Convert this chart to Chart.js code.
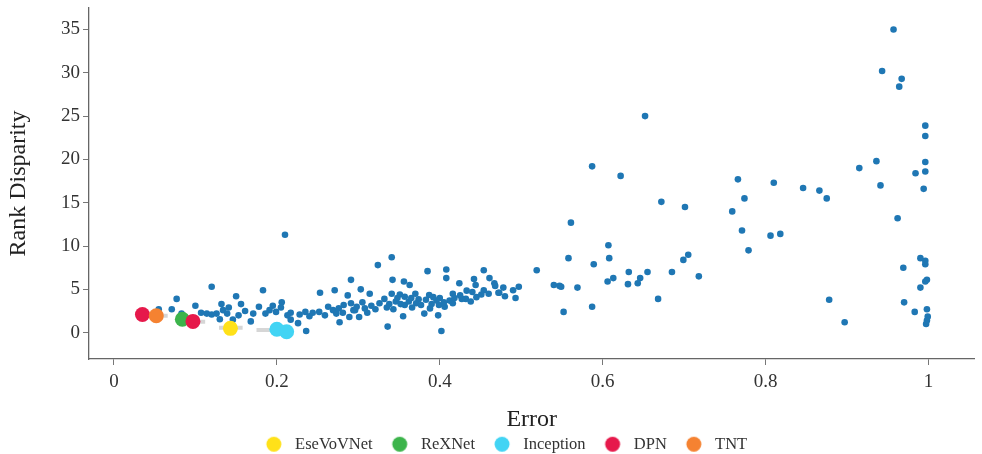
<!DOCTYPE html>
<html>
<head>
<meta charset="utf-8">
<script src="https://cdn.jsdelivr.net/npm/chart.js@4"></script>
<style>
  html, body { margin: 0; padding: 0; background: #fff; }
</style>
</head>
<body>
<canvas id="disparity" width="982" height="454"></canvas>
<script>
// axis ticks
const xTicks = [0, 0.2, 0.4, 0.6, 0.8, 1];
const xTickLabels = ["0", "0.2", "0.4", "0.6", "0.8", "1"];
const yTicks = [0, 5, 10, 15, 20, 25, 30, 35];

// every model: error vs rank disparity
const allError = [
    0.957, 0.943, 0.967, 0.964, 0.996, 0.996, 0.996, 0.936, 0.915, 0.984, 0.996, 0.941, 0.994,
    0.766, 0.810, 0.846, 0.866, 0.875, 0.774, 0.759, 0.962, 0.771, 0.806, 0.818, 0.779, 0.990,
    0.996, 0.996, 0.969, 0.998, 0.996, 0.990, 0.878, 0.970, 0.983, 0.998, 0.999, 0.998, 0.997, 0.897,
    0.652, 0.587, 0.622, 0.672, 0.701, 0.561, 0.607, 0.705, 0.699, 0.558, 0.608, 0.589, 0.519,
    0.632, 0.655, 0.685, 0.718, 0.613, 0.606, 0.646, 0.643, 0.631, 0.540, 0.547, 0.549, 0.569,
    0.497, 0.490, 0.478, 0.480, 0.493, 0.668, 0.552, 0.587, 0.473,
    0.341, 0.324, 0.385, 0.408, 0.408, 0.454, 0.461, 0.291, 0.342, 0.356, 0.363, 0.424, 0.442,
    0.467, 0.468, 0.444, 0.303, 0.314, 0.454, 0.460, 0.472, 0.433, 0.440, 0.341, 0.351, 0.370,
    0.387, 0.416, 0.432, 0.412, 0.400, 0.396, 0.374, 0.357, 0.332, 0.346, 0.326, 0.305, 0.291,
    0.296, 0.308, 0.321, 0.335, 0.357, 0.371, 0.377, 0.390, 0.399, 0.406, 0.416, 0.427, 0.301,
    0.355, 0.381, 0.398, 0.336, 0.402,
    0.362, 0.383, 0.392, 0.405, 0.418, 0.352, 0.338, 0.365, 0.348, 0.425, 0.445, 0.451, 0.438,
    0.388, 0.366, 0.343,
    0.183, 0.150, 0.253, 0.271, 0.287, 0.206, 0.156, 0.178, 0.141, 0.161, 0.195, 0.191, 0.199,
    0.186, 0.171, 0.153, 0.168, 0.217, 0.228, 0.235, 0.244, 0.252, 0.263, 0.269, 0.273, 0.281,
    0.282, 0.294, 0.289, 0.217, 0.226, 0.236, 0.210, 0.277,
    0.205, 0.213, 0.259, 0.276, 0.298, 0.311, 0.316, 0.240,
    0.120, 0.077, 0.055, 0.071, 0.083, 0.100, 0.107, 0.114, 0.120, 0.126, 0.132, 0.134, 0.139,
    0.146, 0.130
];
const allDisparity = [
    35.0, 30.2, 29.3, 28.4, 23.9, 22.7, 19.7, 19.8, 19.0, 18.4, 18.6, 17.0, 16.6,
    17.7, 17.3, 16.7, 16.4, 15.5, 15.5, 14.0, 13.2, 11.8, 11.2, 11.4, 9.5, 8.6,
    8.3, 7.9, 7.5, 6.1, 5.9, 5.2, 3.8, 3.5, 2.4, 2.7, 1.85, 1.4, 1.0, 1.2,
    25.0, 19.2, 18.1, 15.1, 14.5, 12.7, 10.1, 9.0, 8.4, 8.6, 8.6, 7.9, 7.2,
    7.0, 7.0, 7.0, 6.5, 6.3, 5.9, 6.3, 5.7, 5.6, 5.5, 5.4, 5.3, 5.2,
    5.3, 4.9, 5.2, 4.2, 4.0, 3.9, 2.4, 3.0, 4.6,
    8.7, 7.8, 7.1, 7.3, 6.3, 7.2, 6.3, 6.1, 6.1, 5.9, 5.5, 5.7, 6.2,
    5.7, 5.4, 5.5, 5.0, 4.5, 4.9, 4.5, 4.6, 4.85, 4.7, 4.5, 4.4, 4.5,
    4.35, 4.5, 3.9, 3.7, 4.0, 3.7, 3.85, 4.15, 3.9, 3.6, 3.4, 3.5, 3.4,
    2.6, 2.8, 2.7, 2.9, 3.2, 3.4, 3.2, 3.3, 3.2, 3.0, 3.4, 3.9, 1.8,
    1.9, 2.2, 2.0, 0.7, 0.2,
    3.6, 3.8, 4.1, 3.5, 4.0, 3.3, 3.3, 4.0, 4.0, 4.3, 4.1, 4.4, 3.6,
    2.8, 2.9, 2.7,
    4.9, 4.2, 4.6, 4.9, 4.3, 3.5, 3.3, 3.0, 2.9, 2.5, 3.1, 2.6, 2.4,
    2.2, 2.2, 2.0, 1.3, 2.3, 2.1, 2.4, 2.3, 2.4, 3.0, 2.6, 2.2, 2.3,
    3.2, 2.6, 1.8, 1.5, 1.1, 0.2, 11.3, 1.2,
    2.9, 2.0, 2.0, 2.8, 3.0, 2.3, 3.1, 1.9,
    5.3, 3.9, 2.7, 2.7, 2.2, 3.1, 2.3, 2.2, 2.1, 2.2, 3.3, 2.6, 2.2,
    1.5, 1.55
];

// highlighted model families
const modelNames = ["EseVoVNet", "ReXNet", "Inception", "DPN", "TNT"];
const modelColors = ["#ffe119", "#3cb44b", "#42d4f4", "#e6194b", "#f58231"];
const modelError = [[0.143], [0.084], [0.200, 0.212], [0.035, 0.097], [0.052]];
const modelDisparity = [[0.5], [1.55], [0.4, 0.1], [2.1, 1.3], [1.95]];
const modelOrder = [0, 0, 0, -1, -2];

// error spread of the families (grey bars)
const spreadFrom = [0.129, 0.175, 0.085, 0.032];
const spreadTo = [0.158, 0.216, 0.112, 0.066];
const spreadLevel = [0.58, 0.31, 1.27, 1.96];

const serif = "'Liberation Serif', 'Times New Roman', serif";

function toPoints(xs, ys) {
    return xs.map((x, i) => ({ x: x, y: ys[i] }));
}

// legend dot with some room in front of the text
function legendDot(color) {
    const c = document.createElement("canvas");
    c.width = 38;
    c.height = 17;
    const g = c.getContext("2d");
    g.fillStyle = color;
    g.beginPath();
    g.arc(25, 8.5, 7.5, 0, Math.PI * 2);
    g.fill();
    return c;
}
const dots = {};
modelNames.forEach((name, i) => { dots[name] = legendDot(modelColors[i]); });

const datasets = [];
modelNames.forEach((name, i) => {
    datasets.push({
        type: "scatter",
        label: name,
        data: toPoints(modelError[i], modelDisparity[i]),
        backgroundColor: modelColors[i],
        borderWidth: 0,
        pointRadius: 7.5,
        pointHoverRadius: 7.5,
        order: modelOrder[i],
    });
});
spreadFrom.forEach((from, i) => {
    datasets.push({
        type: "line",
        label: "spread",
        data: [{ x: from, y: spreadLevel[i] }, { x: spreadTo[i], y: spreadLevel[i] }],
        borderColor: "rgba(200, 200, 200, 0.75)",
        borderWidth: 4,
        pointRadius: 0,
        order: 1,
    });
});
datasets.push({
    type: "scatter",
    label: "all",
    data: toPoints(allError, allDisparity),
    backgroundColor: "#1f77b4",
    borderWidth: 0,
    pointRadius: 3.3,
    pointHoverRadius: 3.3,
    order: 2,
});

// centre the legend row under the plot
const nudgeLegend = {
    id: "nudgeLegend",
    afterLayout(chart) {
        chart.legend.left += 10;
        chart.legend.right += 10;
    },
};

// no extra room for the outer tick labels
function dropLabelPadding(scale) {
    scale.paddingTop = 0;
    scale.paddingBottom = 0;
    scale.paddingLeft = 0;
    scale.paddingRight = 0;
}

new Chart(document.getElementById("disparity"), {
    type: "scatter",
    data: { datasets: datasets },
    plugins: [nudgeLegend],
    options: {
        responsive: false,
        animation: false,
        layout: { padding: { top: 8, right: 6, bottom: -8.5, left: 0 } },
        plugins: {
            tooltip: { enabled: false },
            legend: {
                position: "bottom",
                labels: {
                    usePointStyle: true,
                    pointStyleWidth: 38,
                    padding: 2,
                    color: "#333",
                    font: { family: serif, size: 16.5 },
                    generateLabels(chart) {
                        const items = Chart.defaults.plugins.legend.labels.generateLabels(chart);
                        return items
                            .filter((item) => modelNames.includes(item.text))
                            .map((item) => Object.assign(item, { pointStyle: dots[item.text] }));
                    },
                    sort: (a, b) => modelNames.indexOf(a.text) - modelNames.indexOf(b.text),
                },
            },
        },
        scales: {
            x: {
                type: "linear",
                min: -0.0306,
                max: 1.0564,
                afterFit(scale) {
                    scale.height = 75;
                    dropLabelPadding(scale);
                },
                afterBuildTicks(scale) { scale.ticks = xTicks.map((v) => ({ value: v })); },
                grid: { drawOnChartArea: false, tickLength: 6, color: "#777" },
                border: { color: "#666", width: 1.3 },
                ticks: {
                    color: "#333",
                    padding: 6,
                    font: { family: serif, size: 19 },
                    callback: (value, index) => xTickLabels[index],
                },
                title: {
                    display: true,
                    text: "Error",
                    color: "#222",
                    padding: { top: 0, bottom: 0 },
                    font: { family: serif, size: 24 },
                },
            },
            y: {
                type: "linear",
                min: -3.04,
                max: 37.48,
                afterFit(scale) {
                    scale.width = 89;
                    dropLabelPadding(scale);
                },
                afterBuildTicks(scale) { scale.ticks = yTicks.map((v) => ({ value: v })); },
                grid: { drawOnChartArea: false, tickLength: 6, color: "#777" },
                border: { color: "#666", width: 1.3 },
                ticks: { color: "#333", padding: 3, font: { family: serif, size: 19 } },
                title: {
                    display: true,
                    text: "Rank Disparity",
                    color: "#222",
                    padding: { top: 4, bottom: 0 },
                    font: { family: serif, size: 24 },
                },
            },
        },
    },
});
</script>
</body>
</html>
